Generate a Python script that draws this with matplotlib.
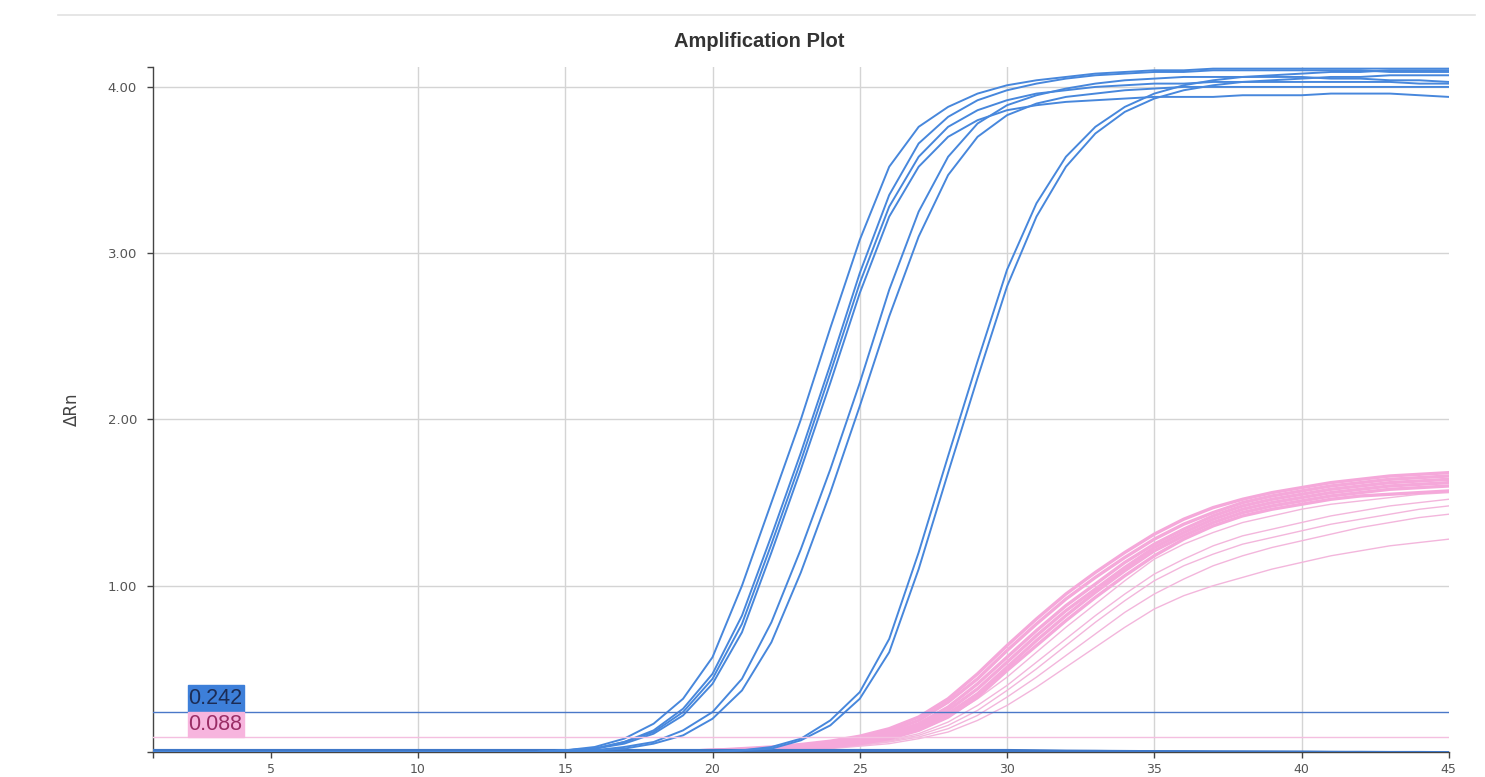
import matplotlib
matplotlib.use('Agg')
from matplotlib import pyplot as plt
from matplotlib.patches import Rectangle
from matplotlib.lines import Line2D

cycles = list(range(1, 46))

# blue target (delta Rn per cycle)
blue_curves = [
    [0.0] * 14 + [0.01, 0.03, 0.08, 0.17, 0.32, 0.57, 1.00, 1.50, 2.00, 2.55, 3.08, 3.52, 3.76, 3.88, 3.96, 4.01,
                  4.04, 4.06, 4.08, 4.09, 4.10, 4.10, 4.11, 4.11, 4.11, 4.11, 4.11, 4.11, 4.11, 4.11, 4.11],
    [0.0] * 14 + [0.01, 0.02, 0.06, 0.13, 0.26, 0.47, 0.82, 1.30, 1.80, 2.33, 2.88, 3.35, 3.66, 3.82, 3.92, 3.98,
                  4.02, 4.05, 4.07, 4.08, 4.09, 4.09, 4.10, 4.10, 4.10, 4.10, 4.10, 4.10, 4.09, 4.09, 4.09],
    [0.0] * 14 + [0.01, 0.02, 0.06, 0.12, 0.24, 0.44, 0.77, 1.25, 1.75, 2.28, 2.82, 3.28, 3.58, 3.76, 3.86, 3.92,
                  3.96, 3.98, 4.00, 4.01, 4.02, 4.02, 4.03, 4.03, 4.03, 4.03, 4.03, 4.03, 4.03, 4.02, 4.02],
    [0.0] * 14 + [0.01, 0.02, 0.05, 0.11, 0.22, 0.41, 0.72, 1.20, 1.70, 2.22, 2.76, 3.22, 3.52, 3.70, 3.80, 3.86,
                  3.89, 3.91, 3.92, 3.93, 3.94, 3.94, 3.94, 3.95, 3.95, 3.95, 3.96, 3.96, 3.96, 3.95, 3.94],
    [0.0] * 14 + [0.00, 0.01, 0.03, 0.06, 0.13, 0.24, 0.44, 0.78, 1.22, 1.70, 2.22, 2.78, 3.25, 3.58, 3.78, 3.89,
                  3.95, 3.99, 4.02, 4.04, 4.05, 4.06, 4.06, 4.06, 4.06, 4.06, 4.05, 4.05, 4.04, 4.04, 4.03],
    [0.0] * 14 + [0.00, 0.01, 0.02, 0.05, 0.10, 0.20, 0.37, 0.66, 1.08, 1.56, 2.08, 2.62, 3.10, 3.47, 3.70, 3.83,
                  3.90, 3.94, 3.96, 3.98, 3.99, 4.00, 4.00, 4.00, 4.00, 4.00, 4.00, 4.00, 4.00, 4.00, 4.00],
    [0.0] * 19 + [0.00, 0.01, 0.03, 0.08, 0.19, 0.36, 0.68, 1.20, 1.78, 2.35, 2.90, 3.30, 3.58, 3.76, 3.88,
                  3.96, 4.01, 4.04, 4.06, 4.07, 4.08, 4.09, 4.09, 4.10, 4.10, 4.10],
    [0.0] * 19 + [0.00, 0.01, 0.02, 0.07, 0.16, 0.32, 0.60, 1.10, 1.68, 2.25, 2.80, 3.22, 3.52, 3.72, 3.85,
                  3.93, 3.98, 4.01, 4.03, 4.04, 4.05, 4.06, 4.06, 4.07, 4.07, 4.07],
]
# flat blue wells sitting on the baseline
blue_flat = [
    [0.01] * 30 + [0.008, 0.006, 0.005, 0.004, 0.003, 0.002, 0.001, 0.0, 0.0, -0.001, -0.002, -0.003, -0.004, -0.005, -0.005],
    [0.006] * 30 + [0.005, 0.004, 0.004, 0.003, 0.002, 0.002, 0.001, 0.001, 0.0, 0.0, -0.001, -0.001, -0.002, -0.002, -0.003],
]

# pink target, dense bundle
pink_bundle = [
    [0.0] * 18 + [0.005, 0.01, 0.02, 0.03, 0.045, 0.065, 0.095, 0.14, 0.21, 0.32, 0.47, 0.64, 0.80, 0.95, 1.08,
                  1.20, 1.31, 1.40, 1.47, 1.52, 1.56, 1.59, 1.62, 1.64, 1.66, 1.67, 1.68],
    [0.0] * 18 + [0.005, 0.01, 0.015, 0.025, 0.04, 0.055, 0.085, 0.125, 0.19, 0.30, 0.44, 0.61, 0.77, 0.92, 1.05,
                  1.17, 1.28, 1.37, 1.44, 1.50, 1.54, 1.57, 1.60, 1.62, 1.64, 1.65, 1.66],
    [0.0] * 18 + [0.005, 0.01, 0.015, 0.02, 0.035, 0.05, 0.075, 0.11, 0.17, 0.27, 0.41, 0.57, 0.73, 0.88, 1.01,
                  1.14, 1.25, 1.34, 1.42, 1.48, 1.52, 1.55, 1.58, 1.60, 1.62, 1.63, 1.64],
    [0.0] * 18 + [0.0, 0.005, 0.01, 0.02, 0.03, 0.045, 0.065, 0.10, 0.155, 0.25, 0.38, 0.54, 0.70, 0.85, 0.98,
                  1.11, 1.23, 1.32, 1.40, 1.46, 1.50, 1.53, 1.56, 1.58, 1.60, 1.61, 1.62],
    [0.0] * 18 + [0.0, 0.005, 0.01, 0.015, 0.025, 0.04, 0.06, 0.09, 0.14, 0.23, 0.35, 0.51, 0.67, 0.82, 0.96,
                  1.09, 1.21, 1.30, 1.38, 1.44, 1.48, 1.51, 1.54, 1.56, 1.58, 1.59, 1.60],
    [0.0] * 18 + [0.0, 0.005, 0.01, 0.015, 0.02, 0.03, 0.05, 0.08, 0.13, 0.21, 0.33, 0.49, 0.64, 0.79, 0.93,
                  1.06, 1.18, 1.28, 1.36, 1.42, 1.46, 1.49, 1.52, 1.54, 1.55, 1.56, 1.57],
]
# pink target, scattered wells
pink_scattered = [
    [0.0] * 19 + [0.005, 0.01, 0.015, 0.02, 0.035, 0.05, 0.08, 0.13, 0.21, 0.32, 0.45, 0.60, 0.75, 0.89, 1.03,
                  1.16, 1.25, 1.32, 1.38, 1.42, 1.46, 1.49, 1.51, 1.53, 1.55, 1.56],
    [0.0] * 19 + [0.005, 0.01, 0.015, 0.02, 0.03, 0.045, 0.07, 0.11, 0.18, 0.28, 0.40, 0.54, 0.68, 0.82, 0.95,
                  1.07, 1.16, 1.24, 1.30, 1.34, 1.38, 1.42, 1.45, 1.48, 1.50, 1.52],
    [0.0] * 19 + [0.005, 0.01, 0.015, 0.02, 0.03, 0.04, 0.065, 0.10, 0.16, 0.25, 0.37, 0.50, 0.64, 0.78, 0.91,
                  1.03, 1.12, 1.19, 1.25, 1.29, 1.33, 1.37, 1.40, 1.43, 1.46, 1.48],
    [0.0] * 19 + [0.005, 0.01, 0.01, 0.02, 0.025, 0.04, 0.06, 0.09, 0.14, 0.22, 0.33, 0.45, 0.58, 0.71, 0.84,
                  0.95, 1.04, 1.12, 1.18, 1.23, 1.27, 1.31, 1.35, 1.38, 1.41, 1.43],
    [0.0] * 19 + [0.005, 0.01, 0.01, 0.015, 0.02, 0.035, 0.05, 0.08, 0.12, 0.19, 0.28, 0.39, 0.51, 0.63, 0.75,
                  0.86, 0.94, 1.00, 1.05, 1.10, 1.14, 1.18, 1.21, 1.24, 1.26, 1.28],
]

thresholds = [0.242, 0.088]
threshold_labels = ['0.242', '0.088']

x_ticks = [1, 5, 10, 15, 20, 25, 30, 35, 40, 45]
x_tick_labels = ['', '5', '10', '15', '20', '25', '30', '35', '40', '45']
y_ticks = [0, 1, 2, 3, 4, 4.12]
y_tick_labels = ['', '1.00', '2.00', '3.00', '4.00', '']

blue = '#4787dc'
pink = '#f5a8da'

fig = plt.figure(figsize=(14.85, 7.77), dpi=100)
ax = fig.add_axes([0.103, 0.0322, 0.8726, 0.8816])

# grid drawn by hand (no line at 5, none at the outer ticks)
for gx in [10, 15, 20, 25, 30, 35, 40]:
    ax.axvline(gx, color='#d4d4d4', lw=1.0, zorder=0)
for gy in [1, 2, 3, 4]:
    ax.axhline(gy, color='#d4d4d4', lw=1.0, zorder=0)

for curve in pink_scattered:
    ax.plot(cycles, curve, color='#f3b6dc', lw=1.0, zorder=2)
for curve in pink_bundle:
    ax.plot(cycles, curve, color=pink, lw=2.4, zorder=2)
for curve in blue_flat:
    ax.plot(cycles, curve, color='#3f78c8', lw=2.0, zorder=3)
for curve in blue_curves:
    ax.plot(cycles, curve, color=blue, lw=1.4, zorder=3)

ax.axhline(thresholds[0], color='#4a78c8', lw=1.0, zorder=4)
ax.axhline(thresholds[1], color='#f4bfe0', lw=1.0, zorder=4)

# threshold value tags
ax.add_patch(Rectangle((2.19, thresholds[0]), 1.9, 0.162, color='#3d7fd9', zorder=5))
ax.add_patch(Rectangle((2.19, thresholds[1]), 1.9, thresholds[0] - thresholds[1], color='#f7b5de', zorder=5))
ax.text(2.2, thresholds[0] + 0.078, threshold_labels[0], fontsize=15.5, color='#1c2c55',
        family='Liberation Sans', va='center', ha='left', zorder=6)
ax.text(2.2, (thresholds[0] + thresholds[1]) / 2, threshold_labels[1], fontsize=15.5, color='#9a2d66',
        family='Liberation Sans', va='center', ha='left', zorder=6)

ax.set_xlim(1, 45)
ax.set_ylim(0, 4.12)
ax.set_xticks(x_ticks)
ax.set_xticklabels(x_tick_labels)
ax.set_yticks(y_ticks)
ax.set_yticklabels(y_tick_labels)
ax.tick_params(axis='both', colors='#444444', labelcolor='#555555', labelsize=9.5, length=4.5, width=1)
ax.tick_params(axis='y', pad=7)
ax.tick_params(axis='x', labelsize=9, pad=3.5)
for side in ['top', 'right']:
    ax.spines[side].set_visible(False)
for side in ['left', 'bottom']:
    ax.spines[side].set_color('#444444')
    ax.spines[side].set_linewidth(1)

ax.set_ylabel('ΔRn', fontsize=12, color='#444444')
ax.yaxis.set_label_coords(-0.0555, 0.5)

fig.text(0.511, 0.946, 'Amplification Plot', ha='center', va='center', fontsize=14.5,
         fontweight='bold', family='Liberation Sans', color='#333333')
fig.add_artist(Line2D([58 / 1485, 1475 / 1485], [1 - 15 / 777, 1 - 15 / 777], color='#e2e2e2', lw=1.2))

fig.savefig('out.png', dpi=100, facecolor='white')
